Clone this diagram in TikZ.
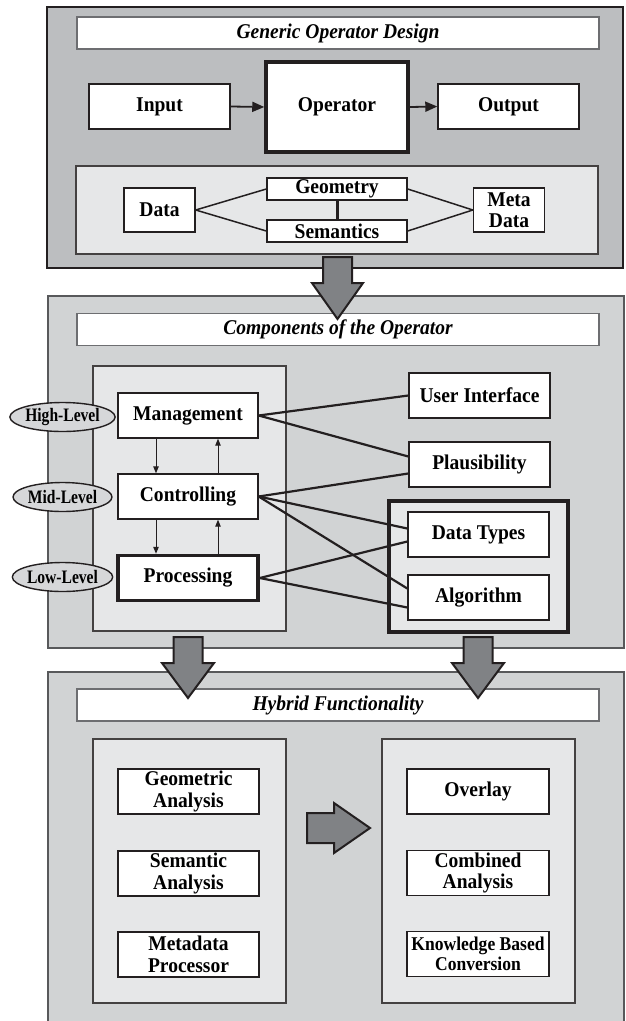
\documentclass[tikz,border=0pt]{standalone}
\usepackage{fontspec}
\setmainfont{Liberation Serif}[FakeStretch=0.93]
\newfontfamily\lvlfont{Liberation Serif}[FakeStretch=0.82]
\newfontfamily\kbfont{Liberation Serif}[FakeStretch=0.9]
\usetikzlibrary{arrows.meta,shapes.geometric,calc}
\definecolor{panA}{HTML}{BCBEC0}
\definecolor{panB}{HTML}{D1D3D4}
\definecolor{lite}{HTML}{E6E7E8}
\definecolor{arr}{HTML}{808285}
\definecolor{ink}{HTML}{231F20}
\definecolor{tgray}{HTML}{6D6E71}
\definecolor{pgray}{HTML}{58595B}
\definecolor{ellf}{HTML}{D6D7D9}
\begin{document}
\begin{tikzpicture}[x=1pt,y=-1pt,
  box/.style={draw=ink,fill=white,line width=1.4pt,inner sep=0pt,align=center,font=\fontsize{21}{21.5}\selectfont\bfseries},
  thickbox/.style={box,line width=3.5pt},
  ttl/.style={draw=tgray,fill=white,line width=1.2pt,inner sep=0pt,minimum width=522pt,minimum height=32pt,font=\fontsize{21}{21}\selectfont\bfseries\itshape},
  lvl/.style={ellipse,draw=ink,fill=ellf,line width=1.4pt,inner sep=0pt,minimum width=99pt,minimum height=29pt,font=\lvlfont\fontsize{19}{19}\selectfont\bfseries},
  link/.style={draw=ink,line width=2.2pt},
  thinlink/.style={draw=ink,line width=1.5pt},
  sarrow/.style={draw=ink,line width=1pt,-{Triangle[length=7pt,width=5.5pt]}},
  marrow/.style={draw=ink,line width=1.8pt,-{Triangle[length=12pt,width=10pt]}},
  barrow/.style={fill=arr,draw=ink,line width=2pt,line join=miter},
  panelA/.style={fill=panA,draw=ink,line width=1.5pt},
  panelB/.style={fill=panB,draw=pgray,line width=1.4pt},
  litepanel/.style={fill=lite,draw=ink!85,line width=1.2pt},
]
\clip (0,0) rectangle (625,1021);
\fill[white] (0,0) rectangle (625,1021);

% ---------- Panel 1 ----------
\draw[panelA] (47,7) rectangle (623,268);
\node[ttl] (t1) at (338,33) {Generic Operator Design};
\node[box,minimum width=141pt,minimum height=45pt] (in) at (159.5,106.5) {Input};
\node[thickbox,minimum width=142pt,minimum height=90pt] (op) at (337,107) {Operator};
\node[box,minimum width=141pt,minimum height=45pt] (out) at (508.5,106.5) {Output};
\draw[marrow] (in.east) -- (op.west);
\draw[marrow] (op.east) -- (out.west);

\draw[litepanel] (76,166) rectangle (598,254);
\node[box,minimum width=71pt,minimum height=44pt] (data) at (159.5,210) {Data};
\node[box,minimum width=140pt,minimum height=22pt] (geo) at (337,189) {Geometry};
\node[box,minimum width=140pt,minimum height=22pt] (sem) at (337,231) {Semantics};
\node[box,minimum width=71pt,minimum height=44pt] (meta) at (509,210) {Meta\\Data};
\draw[thinlink] (data.east) -- (geo.west);
\draw[thinlink] (data.east) -- (sem.west);
\draw[thinlink] (geo.east) -- (meta.west);
\draw[thinlink] (sem.east) -- (meta.west);
\draw[draw=ink,line width=3pt] (geo.south) -- (sem.north);

% ---------- Panel 2 ----------
\draw[panelB] (48,296) rectangle (624,648);
\node[ttl] (t2) at (338,329.5) {Components of the Operator};
\draw[litepanel] (93,366) rectangle (286,631);
\node[box,minimum width=140pt,minimum height=45pt] (mg) at (188,415.5) {Management};
\node[box,minimum width=140pt,minimum height=45pt] (ct) at (188,496.5) {Controlling};
\node[thickbox,minimum width=140pt,minimum height=45pt] (pr) at (188,578) {Processing};
\node[lvl] (hl) at (62.5,417) {High-Level};
\node[lvl] (ml) at (62.5,497) {Mid-Level};
\node[lvl] (ll) at (62.5,577) {Low-Level};
\draw[sarrow] ([xshift=-32pt]mg.south) -- ([xshift=-32pt]ct.north);
\draw[sarrow] ([xshift=30pt]ct.north) -- ([xshift=30pt]mg.south);
\draw[sarrow] ([xshift=-32pt]ct.south) -- ([xshift=-32pt]pr.north);
\draw[sarrow] ([xshift=30pt]pr.north) -- ([xshift=30pt]ct.south);

\node[box,minimum width=141pt,minimum height=45pt] (ui) at (479.5,395.5) {User Interface};
\node[box,minimum width=141pt,minimum height=45pt] (pl) at (479.5,464.5) {Plausibility};
\draw[fill=lite,draw=ink,line width=3.5pt] (389,501) rectangle (568,632);
\node[box,minimum width=141pt,minimum height=45pt] (dt) at (478.5,534.5) {Data Types};
\node[box,minimum width=141pt,minimum height=45pt] (al) at (478.5,597.5) {Algorithm};

\draw[link] (mg.east) -- (ui.west);
\draw[link] (mg.east) -- ([yshift=8pt]pl.west);
\draw[link] (ct.east) -- ([yshift=-9pt]pl.west);
\draw[link] (ct.east) -- ([yshift=6pt]dt.west);
\draw[link] (ct.east) -- ([yshift=9pt]al.west);
\draw[link] (pr.east) -- ([yshift=-7pt]dt.west);
\draw[link] (pr.east) -- ([yshift=-10pt]al.west);

% ---------- Panel 3 ----------
\draw[panelB] (48,672) rectangle (624,1040);
\node[ttl] (t3) at (338,705) {Hybrid Functionality};
\draw[litepanel] (93,739) rectangle (286,1003);
\draw[litepanel] (382,739) rectangle (575,1003);
\node[box,minimum width=141pt,minimum height=45pt] (ga) at (188.5,791.5) {Geometric\\Analysis};
\node[box,minimum width=141pt,minimum height=45pt] (sa) at (188.5,873.5) {Semantic\\Analysis};
\node[box,minimum width=141pt,minimum height=45pt] (mp) at (188.5,954.5) {Metadata\\Processor};
\node[box,minimum width=142pt,minimum height=45pt] (ov) at (478,791.5) {Overlay};
\node[box,minimum width=142pt,minimum height=45pt] (ca) at (478,873) {Combined\\Analysis};
\node[box,minimum width=142pt,minimum height=45pt,font=\kbfont\fontsize{19.5}{20}\selectfont\bfseries] (kb) at (478,954) {Knowledge Based\\Conversion};

% ---------- block arrows ----------
\draw[barrow] (323,257) -- (352,257) -- (352,283) -- (363,283) -- (337.5,319) -- (312,283) -- (323,283) -- cycle;
\draw[barrow] (173.5,637) -- (202.5,637) -- (202.5,663) -- (214,663) -- (188,698) -- (162,663) -- (173.5,663) -- cycle;
\draw[barrow] (463.5,637) -- (492.5,637) -- (492.5,663) -- (504,663) -- (478,698) -- (452,663) -- (463.5,663) -- cycle;
\draw[barrow] (307,813) -- (334,813) -- (334,803) -- (370,828) -- (334,853) -- (334,843) -- (307,843) -- cycle;
\end{tikzpicture}
\end{document}
